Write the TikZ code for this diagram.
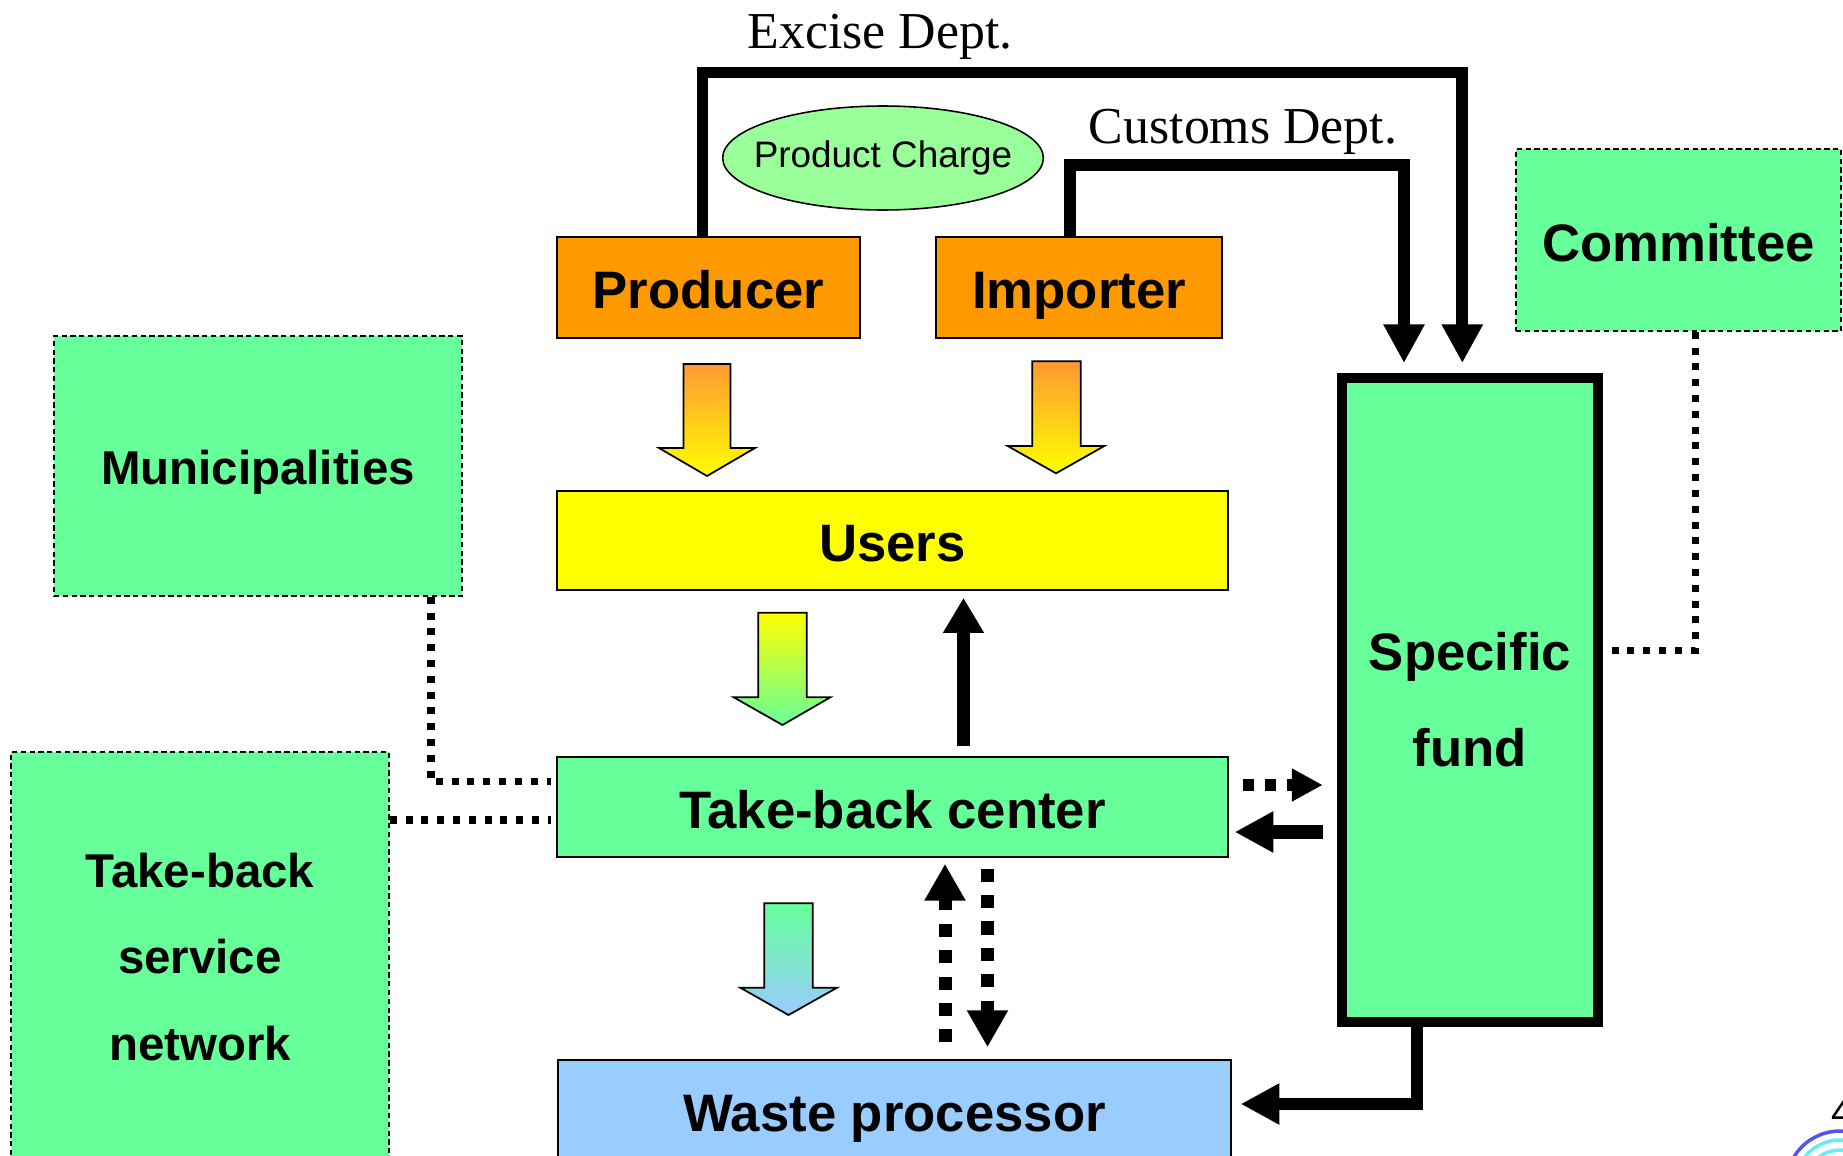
\documentclass[tikz,border=0pt]{standalone}
\usepackage{fontspec}
\setmainfont{Liberation Serif}
\setsansfont{Liberation Sans}
\usetikzlibrary{arrows.meta,calc,shapes.geometric}

\definecolor{fundgreen}{HTML}{66FF99}
\definecolor{makerorange}{HTML}{FF9900}
\definecolor{useryellow}{HTML}{FFFF00}
\definecolor{wasteblue}{HTML}{99CCFF}
\definecolor{chargegreen}{HTML}{99FF99}
\definecolor{arroworange}{HTML}{FF9933}
\definecolor{logoblue}{HTML}{5555EE}
\definecolor{logocyan}{HTML}{66EEEE}

\tikzset{
  box/.style={draw=black, line width=0.9pt, inner sep=0pt, align=center,
    font=\sffamily\bfseries\fontsize{30}{36}\selectfont},
  oneline/.style={text height=26.7pt, text depth=2.5pt},
  sidebox/.style={box, fill=fundgreen, dash pattern=on 3pt off 2pt,
    font=\sffamily\bfseries\fontsize{27}{49}\selectfont},
  dept/.style={font=\rmfamily\fontsize{29.5}{36}\selectfont, inner sep=0pt, anchor=base},
  money/.style={line width=6.8pt, -{Triangle[length=22pt,width=22pt]}},
  thickdots/.style={line width=7.4pt, dash pattern=on 7.4pt off 7.6pt,
    -{Triangle[length=21pt,width=22pt]}},
  link/.style={line width=4pt, dash pattern=on 4pt off 5pt},
  blockarrow/.style={draw=black, line width=1pt}
}

\begin{document}
\begin{tikzpicture}[x=0.02cm,y=-0.02cm]
\useasboundingbox (0,0) rectangle (1843,1156);

% boxes
\node[box, oneline, fill=makerorange, minimum width=6.06cm, minimum height=2.02cm] (producer) at (708.5,287.5) {Producer};
\node[box, oneline, fill=makerorange, minimum width=5.72cm, minimum height=2.02cm] (importer) at (1079,287.5) {Importer};
\node[box, oneline, fill=useryellow, minimum width=13.42cm, minimum height=1.98cm] (users) at (892.5,540.5) {Users};
\node[box, oneline, fill=fundgreen, minimum width=13.42cm, minimum height=2cm] (takeback) at (892.5,807) {Take-back center};
\node[box, oneline, fill=wasteblue, minimum width=13.46cm, minimum height=2cm] (waste) at (894.5,1110) {Waste processor};
\node[box, fill=fundgreen, line width=5.7pt, minimum width=5.13cm, minimum height=12.88cm,
  font=\sffamily\bfseries\fontsize{30}{54.6}\selectfont] (fund) at (1470,699.7) {Specific\\fund};

\node[sidebox, oneline, font=\sffamily\bfseries\fontsize{30}{36}\selectfont,
  minimum width=6.5cm, minimum height=3.64cm] (committee) at (1678.5,240) {Committee};
\node[sidebox, text height=23.5pt, text depth=2.6pt, minimum width=8.16cm, minimum height=5.2cm] (muni) at (258,466) {Municipalities};
\node[sidebox, minimum width=7.56cm, minimum height=8.2cm] (network) at (200,957) {Take-back\\service\\network};

\node[ellipse, draw=black, line width=0.9pt, fill=chargegreen, inner xsep=-9pt, inner ysep=0pt,
  minimum width=6.4cm, minimum height=2.08cm, font=\sffamily\fontsize{21}{25}\selectfont] (charge) at (883,158) {Product Charge};

\node[dept] (excise) at (880,49) {Excise Dept.};
\node[dept] (customs) at (1243,143) {Customs Dept.};

% money to the fund
\coordinate (exciseline) at (1000,72.5);
\coordinate (customsline) at (1200,165);
\draw[money] ($(producer.north)+(-6,0)$) |- (exciseline) -| ($(fund.north)+(-7.7,-9.7)$);
\draw[money] ($(importer.north)+(-9,0)$) |- (customsline) -| ($(fund.north)+(-66,-9.7)$);
\draw[money] ($(fund.south)+(-53,0)$) |- ($(waste.east)+(9,-6)$);
\coordinate (fromFund) at ($(fund.west)+(-14,132.3)$);
\draw[money, line width=8pt] (fromFund) -- ($(fromFund -| takeback.east)+(6,0)$);
\draw[money, line width=7.4pt, -{Triangle[length=20pt,width=22pt]}] ($(takeback.north)+(71,-10)$) -- ($(users.south)+(71,7)$);

% dotted flows
\coordinate (toFund) at ($(takeback.east)+(14,-22)$);
\draw[thickdots, line width=6.5pt, dash pattern=on 6.5pt off 6pt, -{Triangle[length=17.6pt,width=17.6pt]}]
  (toFund) -- ($(toFund -| fund.west)+(-14,0)$);
\draw[thickdots] ($(waste.north)+(50.5,-17)$) -- ($(takeback.south)+(52.5,6)$);
\draw[thickdots] ($(takeback.south)+(95,11)$) -- ($(waste.north)+(93,-12)$);

% links
\draw[link] ($(committee.south)+(16.5,0)$) |- ($(fund.east)+(5,-49)$);
\draw[link] ($(muni.south)+(173,0)$) |- ($(takeback.west)+(-5,-25.3)$);
\coordinate (netlink) at ($(takeback.west)+(-5,13)$);
\draw[link] (netlink -| network.east) -- (netlink);

% block arrows
\draw[blockarrow, top color=arroworange, bottom color=useryellow]
  (683.5,364) -- (730.5,364) -- (730.5,448) -- (755,448) -- (707,476) -- (659,448) -- (683.5,448) -- cycle;
\draw[blockarrow, top color=arroworange, bottom color=useryellow]
  (1032.3,361.3) -- (1080.7,361.3) -- (1080.7,446) -- (1104.3,446) -- (1056,473.3) -- (1007.7,446) -- (1032.3,446) -- cycle;
\draw[blockarrow, top color=useryellow, bottom color=fundgreen]
  (758.3,612.7) -- (806.7,612.7) -- (806.7,697.3) -- (830.3,697.3) -- (782.5,725) -- (733.7,697.3) -- (758.3,697.3) -- cycle;
\draw[blockarrow, top color=fundgreen, bottom color=wasteblue]
  (764.3,903.3) -- (812.7,903.3) -- (812.7,987.7) -- (837,987.7) -- (788.5,1015) -- (740.3,987.7) -- (764.3,987.7) -- cycle;

% corner of the slide
\node[anchor=base west, inner sep=0pt, font=\sffamily\fontsize{22}{24}\selectfont] (pagenum) at (1831,1125) {4};
\draw[logoblue, line width=2pt] (1840,1185) circle[radius=54];
\draw[logocyan, line width=2pt] (1840,1185) circle[radius=45];
\draw[logocyan, line width=2pt] (1840,1185) circle[radius=35];

\end{tikzpicture}
\end{document}
